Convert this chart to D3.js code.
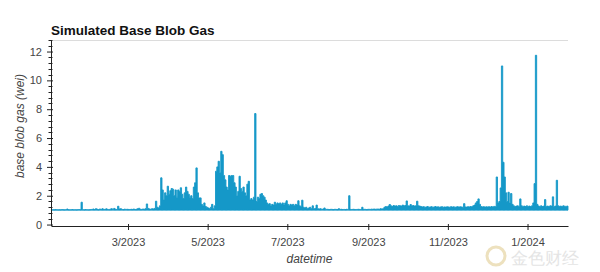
<!DOCTYPE html>
<html>
<head>
<meta charset="utf-8">
<script src="https://cdn.jsdelivr.net/npm/d3@7"></script>
<style>
  body { margin: 0; background: #fff; }
  svg text { font-family: "Liberation Sans", Arial, sans-serif; }
</style>
</head>
<body>
<script>
// --- data (daily max of simulated base blob gas, wei) ---
var startDate = "2023-01-01";
var endDate = "2024-02-01";

var jan23 = [1.02,1.03,1.02,1.04,1.03,1.02,1.03,1.02,1.04,1.03,1.02,1.03,1.08,1.03,1.02,1.03,1.04,1.02,1.03,1.02,1.03,1.04,1.03,1.55,1.03,1.02,1.04,1.03,1.02,1.03,1.04];
var feb23 = [1.05,1.08,1.04,1.10,1.06,1.03,1.08,1.05,1.10,1.04,1.06,1.09,1.05,1.03,1.07,1.10,1.05,1.12,1.06,1.04,1.27,1.08,1.10,1.05,1.04,1.07,1.05,1.06];
var mar23 = [1.05,1.04,1.06,1.05,1.08,1.04,1.06,1.10,1.13,1.06,1.05,1.08,1.06,1.10,1.43,1.12,1.08,1.06,1.10,1.08,1.12,1.62,1.20,1.15,1.30,3.24,2.40,1.70,2.20,2.00,2.66];
var apr23 = [2.10,2.35,2.50,2.45,2.00,2.40,1.90,2.40,2.30,2.55,2.10,1.80,2.20,2.60,2.30,2.10,1.90,2.00,1.80,2.60,2.90,3.93,2.20,1.85,1.85,1.40,1.30,1.50,1.25,1.20];
var may23 = [1.15,1.10,1.20,1.40,1.10,1.30,3.70,4.00,4.39,3.60,5.08,4.85,3.40,3.10,2.60,2.40,3.40,3.35,3.40,3.40,2.90,2.60,2.00,2.30,3.35,2.50,2.30,2.60,2.20,2.00,2.80];
var jun23 = [3.00,1.70,1.80,1.70,1.90,7.70,1.60,1.90,1.80,2.10,2.15,2.00,1.90,1.70,1.50,1.40,1.45,1.30,1.40,1.35,1.55,1.40,1.50,1.45,1.50,1.40,1.50,1.35,1.50,1.65];
var jul23 = [1.40,1.30,1.40,1.35,1.40,1.30,1.40,1.35,1.65,1.30,1.25,1.69,1.20,1.15,1.20,1.10,1.15,1.20,1.10,1.30,1.10,1.12,1.35,1.10,1.08,1.10,1.05,1.08,1.15,1.05,1.06];
var aug23 = [1.05,1.04,1.06,1.05,1.04,1.06,1.05,1.04,1.10,1.05,1.06,1.04,1.05,1.04,1.06,1.05,2.00,1.05,1.04,1.06,1.05,1.04,1.05,1.06,1.05,1.04,1.20,1.05,1.06,1.04,1.05];
var sep23 = [1.06,1.05,1.07,1.06,1.08,1.06,1.07,1.08,1.06,1.10,1.08,1.10,1.20,1.25,1.22,1.28,1.39,1.30,1.25,1.32,1.28,1.30,1.26,1.32,1.30,1.28,1.35,1.30,1.32,1.64];
var oct23 = [1.30,1.28,1.39,1.30,1.32,1.28,1.30,1.62,1.30,1.28,1.25,1.22,1.24,1.20,1.22,1.25,1.20,1.22,1.24,1.20,1.22,1.25,1.21,1.23,1.20,1.22,1.24,1.20,1.22,1.21,1.23];
var nov23 = [1.22,1.20,1.24,1.21,1.23,1.20,1.22,1.24,1.21,1.23,1.22,1.20,1.45,1.22,1.21,1.24,1.22,1.25,1.23,1.30,1.35,1.50,1.60,1.78,1.40,1.25,1.22,1.24,1.21,1.23];
var dec23 = [1.22,1.24,1.21,1.25,1.22,1.26,1.24,3.30,1.50,1.60,2.54,11.0,4.32,3.30,2.20,1.60,2.24,1.50,2.15,1.40,1.30,1.25,1.28,1.30,1.25,1.78,1.30,1.26,1.28,1.25,1.30];
var jan24 = [1.26,1.28,1.25,1.30,1.50,2.84,11.74,1.40,1.28,1.26,1.30,1.25,1.28,1.73,1.26,1.28,1.25,1.30,1.28,1.92,1.26,1.28,3.07,1.30,1.26,1.28,1.25,1.30,1.27,1.26,1.28];

var xTickLabels = ["3/2023", "5/2023", "7/2023", "9/2023", "11/2023", "1/2024"];
var yTicks = [0, 2, 4, 6, 8, 10, 12];
var yMinorStep = 0.4;
var yDomain = [-0.1, 12.8];

var chartTitle = "Simulated Base Blob Gas";
var xTitle = "datetime";
var yTitle = "base blob gas (wei)";

(function() {

	// --- build table ---
	var values = [].concat(jan23, feb23, mar23, apr23, may23, jun23, jul23, aug23, sep23, oct23, nov23, dec23, jan24);
	var parseDay = d3.timeParse("%Y-%m-%d");
	var t0 = parseDay(startDate);
	var data = values.map(function(v, i) {
		return { date: d3.timeDay.offset(t0, i), v: v };
	});
	// extend the final step to the end of the last day
	data.push({ date: d3.timeDay.offset(t0, values.length), v: values[values.length - 1] });

	var width = 600, height = 272;
	var pLeft = 51, pRight = 568, pTop = 40, pBottom = 226;
	var color = "#1598c8";

	var svg = d3.select("body").append("svg")
		.attr("width", width)
		.attr("height", height);

	var x = d3.scaleTime()
		.domain([t0, parseDay(endDate)])
		.range([pLeft, pRight]);

	var y = d3.scaleLinear()
		.domain(yDomain)
		.range([pBottom, pTop]);

	// top frame line
	svg.append("line")
		.attr("x1", pLeft).attr("x2", pRight)
		.attr("y1", pTop + 0.5).attr("y2", pTop + 0.5)
		.attr("stroke", "#dcdcdc");

	// series
	var area = d3.area()
		.x(function(d) { return x(d.date); })
		.y0(y(1))
		.y1(function(d) { return y(d.v); })
		.curve(d3.curveStepAfter);

	svg.append("path")
		.datum(data)
		.attr("d", area)
		.attr("fill", color)
		.attr("stroke", color)
		.attr("stroke-width", 0.9);

	// x axis
	var parseTick = d3.timeParse("%m/%Y");
	var xAxis = d3.axisBottom(x)
		.tickValues(xTickLabels.map(function(s) { return parseTick(s); }))
		.tickFormat(function(d, i) { return xTickLabels[i]; })
		.tickSizeOuter(0);

	var gx = svg.append("g")
		.attr("transform", "translate(0," + pBottom + ")")
		.call(xAxis);
	gx.select(".domain").attr("stroke", "#222");
	gx.selectAll(".tick line").attr("y1", -2).attr("y2", 4).attr("stroke", "#222");
	gx.selectAll(".tick text")
		.attr("y", 12)
		.attr("font-size", 11)
		.attr("fill", "#444");

	// y axis with crossing ticks
	var yAxis = d3.axisLeft(y)
		.tickValues(yTicks)
		.tickSizeOuter(0);

	var gy = svg.append("g")
		.attr("transform", "translate(" + pLeft + ",0)")
		.call(yAxis);
	gy.select(".domain").attr("stroke", "#222").attr("d", "M0.5," + pTop + "V" + pBottom);
	gy.selectAll(".tick line").attr("x1", 2).attr("x2", -4).attr("stroke", "#222");
	gy.selectAll(".tick text")
		.attr("x", -9)
		.attr("font-size", 11)
		.attr("fill", "#444");

	// minor ticks every 0.4
	gy.selectAll(".minor")
		.data(d3.range(0, yDomain[1] + 0.001, yMinorStep).filter(function(v) {
			return Math.abs(v / 2 - Math.round(v / 2)) > 0.01;
		}))
		.enter().append("line")
		.attr("class", "minor")
		.attr("x1", 1.5).attr("x2", -2.5)
		.attr("y1", function(d) { return Math.round(y(d)) + 0.5; })
		.attr("y2", function(d) { return Math.round(y(d)) + 0.5; })
		.attr("stroke", "#222");

	// titles
	svg.append("text")
		.attr("x", pLeft)
		.attr("y", 35)
		.attr("font-size", 13.5)
		.attr("font-weight", "bold")
		.attr("fill", "#111")
		.text(chartTitle);

	svg.append("text")
		.attr("x", (pLeft + pRight) / 2)
		.attr("y", 263)
		.attr("text-anchor", "middle")
		.attr("font-size", 12)
		.attr("font-style", "italic")
		.attr("fill", "#444")
		.text(xTitle);

	svg.append("text")
		.attr("transform", "translate(24,126) rotate(-90)")
		.attr("text-anchor", "middle")
		.attr("font-size", 12)
		.attr("font-style", "italic")
		.attr("fill", "#444")
		.text(yTitle);

	// watermark
	var wm = svg.append("g").attr("opacity", 0.55);
	wm.append("circle")
		.attr("cx", 496).attr("cy", 256).attr("r", 9)
		.attr("fill", "none").attr("stroke", "#e0c98a").attr("stroke-width", 3);
	wm.append("text")
		.attr("x", 511)
		.attr("y", 264)
		.attr("font-family", "Noto Sans CJK SC")
		.attr("font-size", 17)
		.attr("fill", "#cfcfcf")
		.text("金色财经");

})();
</script>
</body>
</html>
